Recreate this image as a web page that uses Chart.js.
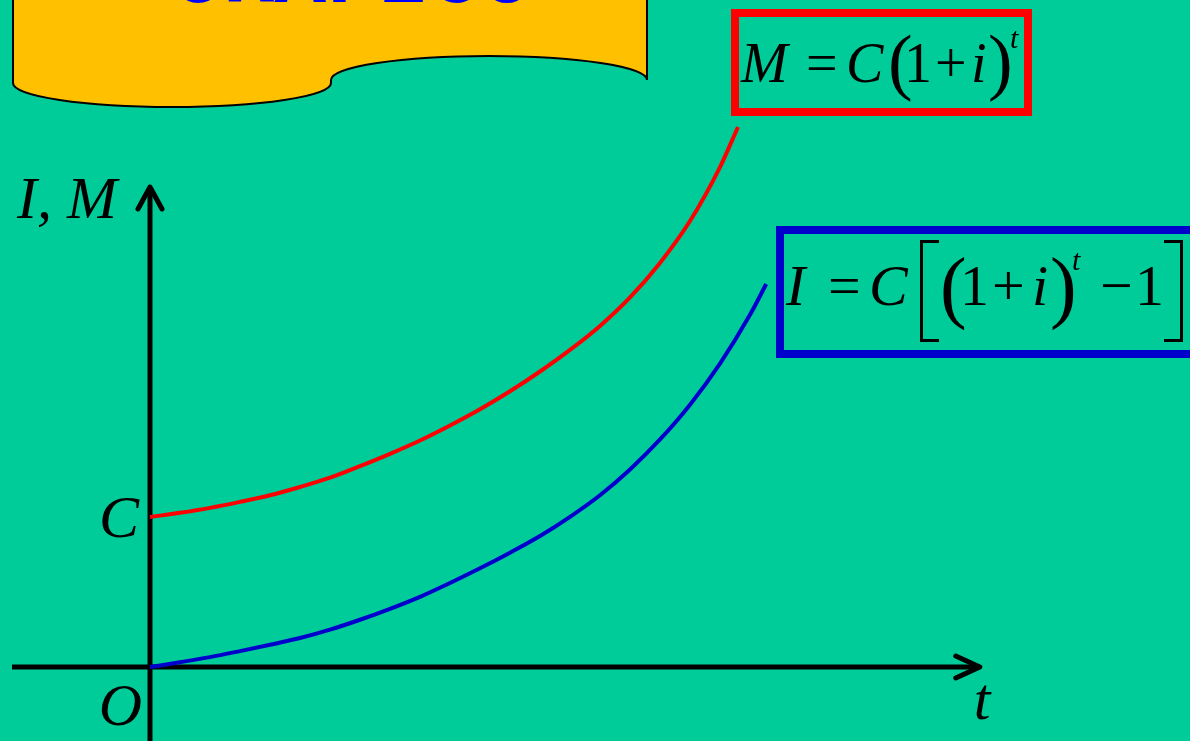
<!DOCTYPE html>
<html>
<head>
<meta charset="utf-8">
<script src="https://cdn.jsdelivr.net/npm/chart.js@4.4.1/dist/chart.umd.min.js"></script>
<style>
  body { margin: 0; background: #00CC99; }
  #wrap { position: relative; width: 1190px; height: 741px; overflow: hidden; background: #00CC99; }
  #chart { position: absolute; left: 0; top: 0; }
  .lbl { position: absolute; white-space: pre; color: #000; font-family: "Liberation Serif", "Times New Roman", serif; }
  .box { position: absolute; box-sizing: border-box; }
  .brk { position: absolute; box-sizing: border-box; border: 3px solid #000; }
</style>
</head>
<body>
<div id="wrap">
  <canvas id="chart" width="1190" height="741"></canvas>
</div>
<script>
// Compound interest: M = C(1+i)^t and I = C[(1+i)^t - 1], C = 1
const tRed = [0, 0.5, 1, 1.5, 2, 2.5, 3, 3.5, 4, 4.5, 5, 5.5, 6, 6.5, 7, 7.5, 8, 8.5, 9, 9.5, 9.8];
const mRed = [1.0, 1.028, 1.061, 1.101, 1.145, 1.2, 1.262, 1.339, 1.421, 1.51, 1.61, 1.718, 1.838, 1.97, 2.114, 2.274, 2.464, 2.694, 2.973, 3.333, 3.6];
const tBlue = [0, 0.5, 1, 1.5, 2, 2.5, 3, 3.5, 4, 4.5, 5, 5.5, 6, 6.5, 7, 7.5, 8, 8.5, 9, 9.5, 10, 10.27];
const iBlue = [0, 0.032, 0.066, 0.106, 0.148, 0.193, 0.249, 0.315, 0.388, 0.468, 0.56, 0.658, 0.762, 0.873, 1.001, 1.145, 1.317, 1.517, 1.749, 2.023, 2.348, 2.553];

// axis extents (data units) and labels
const xAxisRange = [-2.3, 13.83];
const yAxisRange = [-0.5, 3.2];
const yTickValues = [1];
const yTickLabels = ["C"];
const originLabel = "O";
const xAxisTitle = "t";
const yAxisTitle = "I, M";
const bannerTitle = "GRÁFICO";

const wrap = document.getElementById("wrap");

function putText(txt, x, base, size, italic, opts) {
  opts = opts || {};
  const el = document.createElement("span");
  el.className = "lbl";
  el.textContent = txt;
  const fam = opts.family || '"Liberation Serif", "Times New Roman", serif';
  const asc = opts.asc || 0.891, desc = opts.desc || 0.216;
  el.style.fontFamily = fam;
  el.style.fontSize = size + "px";
  el.style.fontStyle = italic ? "italic" : "normal";
  if (opts.bold) el.style.fontWeight = "bold";
  if (opts.color) el.style.color = opts.color;
  el.style.lineHeight = (size * (asc + desc)) + "px";
  el.style.top = (base - size * asc) + "px";
  el.style.left = x + "px";
  if (opts.align === "right") el.style.transform = "translateX(-100%)";
  if (opts.align === "center") el.style.transform = "translateX(-50%)";
  wrap.appendChild(el);
  return el;
}

function putBox(cls, left, top, w, h, css) {
  const el = document.createElement("div");
  el.className = cls;
  el.style.left = left + "px";
  el.style.top = top + "px";
  el.style.width = w + "px";
  el.style.height = h + "px";
  Object.assign(el.style, css || {});
  wrap.appendChild(el);
  return el;
}

const decorPlugin = {
  id: "decor",
  beforeDraw(chart) {
    const ctx = chart.ctx;
    // yellow title banner
    ctx.save();
    ctx.beginPath();
    ctx.moveTo(13, -5);
    ctx.lineTo(13, 83);
    ctx.ellipse(172, 83, 159, 24, 0, Math.PI, 0, true);
    ctx.lineTo(331, 80);
    ctx.ellipse(489, 80, 158, 24, 0, Math.PI, 2 * Math.PI, false);
    ctx.lineTo(647, -5);
    ctx.closePath();
    ctx.fillStyle = "#FFC000";
    ctx.fill();
    ctx.strokeStyle = "#000";
    ctx.lineWidth = 2;
    ctx.stroke();
    ctx.restore();
  },
  beforeDatasetsDraw(chart) {
    const { ctx, scales: { x, y } } = chart;
    const x0 = x.getPixelForValue(0), y0 = y.getPixelForValue(0);
    const xl = x.getPixelForValue(xAxisRange[0]), xr = x.getPixelForValue(xAxisRange[1]);
    const yb = y.getPixelForValue(yAxisRange[0]), yt = y.getPixelForValue(yAxisRange[1]);
    ctx.save();
    ctx.strokeStyle = "#000";
    ctx.lineWidth = 5;
    ctx.lineCap = "butt";
    ctx.beginPath();
    ctx.moveTo(xl, y0); ctx.lineTo(xr, y0);
    ctx.moveTo(x0, yb); ctx.lineTo(x0, yt);
    ctx.stroke();
    ctx.lineCap = "round";
    ctx.lineJoin = "round";
    ctx.beginPath();
    ctx.moveTo(xr - 24, y0 - 11); ctx.lineTo(xr, y0); ctx.lineTo(xr - 24, y0 + 11);
    ctx.moveTo(x0 - 12, yt + 22); ctx.lineTo(x0, yt); ctx.lineTo(x0 + 12, yt + 22);
    ctx.stroke();
    ctx.restore();
  }
};

const chart = new Chart(document.getElementById("chart"), {
  type: "line",
  data: {
    datasets: [
      {
        label: "M",
        data: tRed.map((t, k) => ({ x: t, y: mRed[k] })),
        borderColor: "#FF0000",
        borderWidth: 4,
        pointRadius: 0,
        fill: false,
        cubicInterpolationMode: "monotone",
      },
      {
        label: "I",
        data: tBlue.map((t, k) => ({ x: t, y: iBlue[k] })),
        borderColor: "#0000CC",
        borderWidth: 4,
        pointRadius: 0,
        fill: false,
        cubicInterpolationMode: "monotone",
      },
    ],
  },
  options: {
    responsive: false,
    animation: false,
    devicePixelRatio: 1,
    layout: { padding: 0 },
    plugins: { legend: { display: false }, tooltip: { enabled: false }, title: { display: false } },
    scales: {
      x: { type: "linear", min: -2.5, max: 17.3333, display: false },
      y: { type: "linear", min: -0.49333, max: 4.44667, display: false },
    },
  },
  plugins: [decorPlugin],
});

// axis labels placed from the scales
const sx = chart.scales.x, sy = chart.scales.y;
const ox = sx.getPixelForValue(0), oy = sy.getPixelForValue(0);
const tipX = sx.getPixelForValue(xAxisRange[1]), tipY = sy.getPixelForValue(yAxisRange[1]);
putText(yAxisTitle, ox - 133, tipY + 31, 60, true);
yTickValues.forEach((v, k) => {
  putText(yTickLabels[k], ox - 11, sy.getPixelForValue(v) + 20, 60, true, { align: "right" });
});
putText(originLabel, ox - 8, oy + 58, 60, true, { align: "right" });
putText(xAxisTitle, tipX - 6, oy + 52, 60, true);

// banner title
putText(bannerTitle, 352, 3, 86, false, {
  family: '"Liberation Mono", "Courier New", monospace', asc: 0.833, desc: 0.3,
  bold: true, color: "#0000FF", align: "center"
});

// formula M = C(1+i)^t
putBox("box", 731, 9, 301, 107, { border: "8px solid #FF0000" });
putText("M", 741, 82, 56, true);
putText("=", 806, 82, 56, false);
putText("C", 846, 82, 56, true);
putText("(", 888, 87, 74, false);
putText("1", 904, 82, 56, false);
putText("+", 935, 82, 56, false);
putText("i", 971, 82, 56, true);
putText(")", 988, 87, 74, false);
putText("t", 1010, 48, 30, true);

// formula I = C[(1+i)^t - 1]
putBox("box", 776, 226, 520, 132, { border: "8px solid #0000CC" });
putText("I", 786, 306, 58, true);
putText("=", 828, 306, 58, false);
putText("C", 869, 306, 58, true);
putBox("brk", 920, 240, 19, 102, { borderRight: "none" });
putText("(", 940, 313, 80, false);
putText("1", 960, 306, 58, false);
putText("+", 992, 306, 58, false);
putText("i", 1032, 306, 58, true);
putText(")", 1050, 313, 80, false);
putText("t", 1072, 270, 30, true);
putText("\u2212", 1100, 306, 58, false);
putText("1", 1135, 306, 58, false);
putBox("brk", 1164, 240, 19, 102, { borderLeft: "none" });
</script>
</body>
</html>
